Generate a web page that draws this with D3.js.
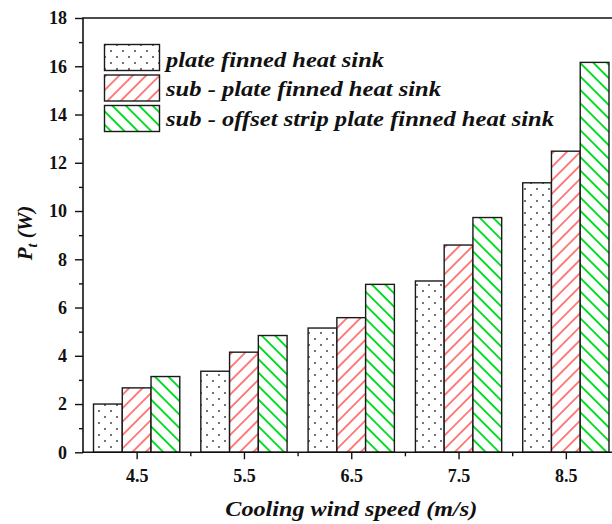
<!DOCTYPE html>
<html>
<head>
<meta charset="utf-8">
<script src="https://cdn.jsdelivr.net/npm/d3@7"></script>
<style>
  html, body { margin: 0; padding: 0; background: #fff; }
  svg { display: block; }
  text { font-family: "Liberation Serif", "Times New Roman", serif; fill: #111; }
</style>
</head>
<body>
<svg id="chart" width="612" height="524"></svg>
<script>
// ---- data ----
const categories = [4.5, 5.5, 6.5, 7.5, 8.5];
const seriesNames = [
  "plate finned heat sink",
  "sub - plate finned heat sink",
  "sub - offset strip plate finned heat sink"
];
const plateFinned = [2.00, 3.36, 5.15, 7.10, 11.17];
const subPlateFinned = [2.67, 4.15, 5.58, 8.59, 12.48];
const subOffsetStrip = [3.14, 4.84, 6.96, 9.73, 16.16];
const yMajorTicks = [0, 2, 4, 6, 8, 10, 12, 14, 16, 18];
const yMinorTicks = [1, 3, 5, 7, 9, 11, 13, 15, 17];
const xMajorTicks = [4.5, 5.5, 6.5, 7.5, 8.5];
const xMinorTicks = [5, 6, 7, 8, 9];
const series = [plateFinned, subPlateFinned, subOffsetStrip];

// ---- layout ----
const svg = d3.select("#chart");
const pLeft = 83, pRight = 619.5, pTop = 18, pBottom = 452.3;
const x = d3.scaleLinear().domain([4, 9]).range([pLeft, pRight]);
const y = d3.scaleLinear().domain([0, 18]).range([pBottom, pTop]);
const barUnits = 0.268;
const bw = x(4 + barUnits) - x(4);

// ---- patterns ----
const defs = svg.append("defs");
const dots = defs.append("pattern").attr("id", "dots")
  .attr("patternUnits", "userSpaceOnUse").attr("width", 12).attr("height", 12);
dots.append("rect").attr("width", 12).attr("height", 12).attr("fill", "#fff");
dots.append("circle").attr("cx", 3).attr("cy", 3).attr("r", 0.9).attr("fill", "#333");
dots.append("circle").attr("cx", 9).attr("cy", 9).attr("r", 0.9).attr("fill", "#333");

function hatch(id, color, angle, sw) {
  const s = 9.5;
  const p = defs.append("pattern").attr("id", id)
    .attr("patternUnits", "userSpaceOnUse").attr("width", s).attr("height", s)
    .attr("patternTransform", `rotate(${angle})`);
  p.append("rect").attr("width", s).attr("height", s).attr("fill", "#fff");
  p.append("line").attr("x1", s / 2).attr("y1", -1).attr("x2", s / 2).attr("y2", s + 1)
    .attr("stroke", color).attr("stroke-width", sw);
}
hatch("red", "#ff3a3a", 45, 1.3);
hatch("green", "#00dd22", -45, 1.9);
const fills = ["url(#dots)", "url(#red)", "url(#green)"];

// ---- bars ----
const gBars = svg.append("g");
series.forEach((vals, j) => {
  gBars.selectAll(null).data(vals).enter().append("rect")
    .attr("x", (d, i) => x(categories[i]) + (j - 1.5) * bw)
    .attr("y", d => y(d))
    .attr("width", bw)
    .attr("height", d => y(0) - y(d))
    .attr("fill", fills[j])
    .attr("stroke", "#1a1a1a")
    .attr("stroke-width", 1.4);
});

// ---- axes ----
const tickFont = "18px";
const yAxis = svg.append("g").attr("transform", `translate(${pLeft},0)`)
  .call(d3.axisLeft(y).tickValues(yMajorTicks).tickSize(8).tickPadding(8).tickSizeOuter(0));
yAxis.select(".domain").remove();
yAxis.selectAll("text")
  .style("font-family", "'Liberation Serif', serif")
  .style("font-size", tickFont).style("font-weight", "bold").style("fill", "#111");
const yMinor = svg.append("g").attr("transform", `translate(${pLeft},0)`)
  .call(d3.axisLeft(y).tickValues(yMinorTicks).tickSize(4).tickFormat(""));
yMinor.select(".domain").remove();

const xAxis = svg.append("g").attr("transform", `translate(0,${pBottom})`)
  .call(d3.axisBottom(x).tickValues(xMajorTicks).tickSize(7).tickPadding(10).tickFormat(d3.format(".1f")));
xAxis.select(".domain").remove();
xAxis.selectAll("text")
  .style("font-family", "'Liberation Serif', serif")
  .style("font-size", tickFont).style("font-weight", "bold").style("fill", "#111");
const xMinor = svg.append("g").attr("transform", `translate(0,${pBottom})`)
  .call(d3.axisBottom(x).tickValues(xMinorTicks).tickSize(4).tickFormat(""));
xMinor.select(".domain").remove();

svg.selectAll(".tick line").attr("stroke", "#111").attr("stroke-width", 1.4);

// axis lines / frame
svg.append("line").attr("x1", pLeft).attr("x2", pLeft).attr("y1", pTop).attr("y2", pBottom)
  .attr("stroke", "#111").attr("stroke-width", 1.6);
svg.append("line").attr("x1", pLeft - 0.8).attr("x2", pRight).attr("y1", pBottom).attr("y2", pBottom)
  .attr("stroke", "#111").attr("stroke-width", 1.6);
svg.append("line").attr("x1", pLeft - 0.8).attr("x2", pRight).attr("y1", pTop).attr("y2", pTop)
  .attr("stroke", "#111").attr("stroke-width", 1.6);

// ---- axis titles ----
svg.append("text").attr("x", (pLeft + pRight) / 2).attr("y", 516)
  .attr("text-anchor", "middle")
  .attr("textLength", 252).attr("lengthAdjust", "spacingAndGlyphs")
  .style("font-size", "21px").style("font-weight", "bold").style("font-style", "italic")
  .text("Cooling wind speed (m/s)");

const yt = svg.append("text").attr("transform", "translate(32,233) rotate(-90)")
  .attr("text-anchor", "middle")
  .style("font-size", "21px").style("font-weight", "bold").style("font-style", "italic");
yt.append("tspan").text("P");
yt.append("tspan").attr("dy", 5).style("font-size", "14px").text("t");
yt.append("tspan").attr("dy", -5).text(" (W)");

// ---- legend ----
const legY = [44.5, 75, 105.5];
const legBaselines = [66.5, 96, 125.5];
const legWidths = [218, 275, 388];
const leg = svg.append("g");
seriesNames.forEach((name, j) => {
  leg.append("rect").attr("x", 104.5).attr("y", legY[j]).attr("width", 55).attr("height", 26)
    .attr("fill", fills[j]).attr("stroke", "#1a1a1a").attr("stroke-width", 1.4);
  leg.append("text").attr("x", 166).attr("y", legBaselines[j])
    .attr("textLength", legWidths[j]).attr("lengthAdjust", "spacingAndGlyphs")
    .style("font-size", "21px").style("font-weight", "bold").style("font-style", "italic")
    .text(name);
});
</script>
</body>
</html>
